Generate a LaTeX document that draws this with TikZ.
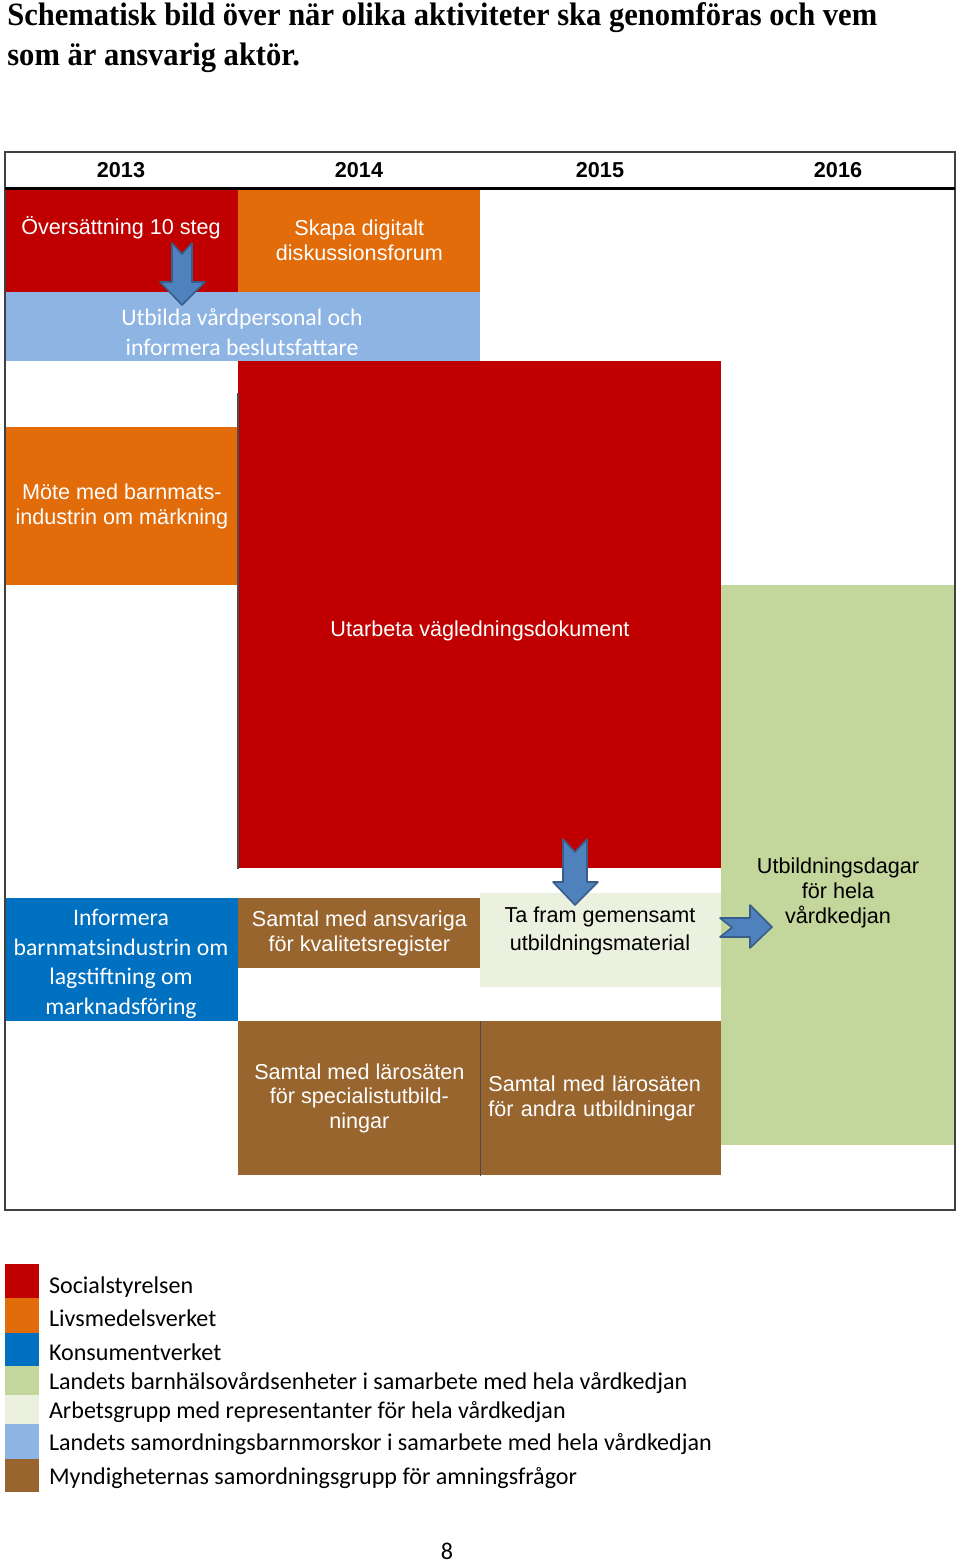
\documentclass[tikz,border=0pt]{standalone}
\usepackage{fontspec}
\setmainfont{Liberation Sans}
\newfontfamily\calfont{Carlito}
\newfontfamily\titlefont[FakeStretch=0.94]{Liberation Serif}
\usetikzlibrary{positioning}

\definecolor{ssred}{HTML}{C00000}
\definecolor{slvorange}{HTML}{E26B0A}
\definecolor{kvblue}{HTML}{0070C0}
\definecolor{bhvgreen}{HTML}{C3D69B}
\definecolor{agpale}{HTML}{EBF1DE}
\definecolor{sbmblue}{HTML}{8DB4E2}
\definecolor{msgbrown}{HTML}{98652F}
\definecolor{arrfill}{HTML}{4F81BD}
\definecolor{arrline}{HTML}{385D8A}

\begin{document}
\begin{tikzpicture}[x=0.02cm, y=-0.02cm,
    cell/.style 2 args={rectangle, inner sep=0pt, anchor=north west, minimum width=#1*0.02cm, minimum height=#2*0.02cm},
    txt/.style={font=\fontsize{12.3}{14}\selectfont, text=white, align=center, inner sep=0pt},
    caltxt/.style={font=\calfont\fontsize{13.5}{17}\selectfont, text=white, align=center, inner sep=0pt},
    year/.style={font=\bfseries\fontsize{12.3}{14}\selectfont},
    barrow/.style={fill=arrfill, draw=arrline, line width=0.9pt, line join=round},
    sep/.style={draw=black!70, line width=0.6pt},
    sw/.style={rectangle, inner sep=0pt, anchor=north west, minimum width=34*0.02cm},
    lgd/.style={font=\calfont\fontsize{13.7}{16}\selectfont, inner sep=0pt, node distance=0.18cm, yshift=-0.04cm}]
  \useasboundingbox (0,0) rectangle (960,1566);

  % title
  \node[anchor=north west, align=left, inner sep=0pt, font=\titlefont\bfseries\fontsize{18.5}{22.7}\selectfont] (title) at (7,2)
    {Schematisk bild över när olika aktiviteter ska genomföras och vem\\som är ansvarig aktör.};

  % years
  \node[year] (y13) at (121,170) {2013};
  \node[year] (y14) at (359,170) {2014};
  \node[year] (y15) at (600,170) {2015};
  \node[year] (y16) at (838,170) {2016};

  % activities
  \node[cell={233}{104}, fill=ssred] (ov) at (5,188) {};
  \node[txt] (ovtxt) at (121,228) {Översättning 10 steg};
  \node[cell={242}{104}, fill=slvorange, txt] (skapa) at (238,188) {Skapa digitalt\\diskussionsforum};
  \node[cell={475}{69}, fill=sbmblue] (utb) at (5,292) {};
  \node[caltxt] (utbtxt) at (242,332) {Utbilda vårdpersonal och\\informera beslutsfattare};
  \node[cell={483}{507}, fill=ssred] (uta) at (238,361) {};
  \node[txt] (utatxt) at (480,631) {Utarbeta vägledningsdokument};
  \node[cell={233}{158}, fill=slvorange, txt] (mote) at (5,427) {Möte med barnmats-\\industrin om märkning};
  \node[cell={234}{560}, fill=bhvgreen] (dagar) at (721,585) {};
  \node[txt, text=black, font=\fontsize{12.3}{14.2}\selectfont] (dagartxt) at (838,893) {Utbildningsdagar\\för hela\\vårdkedjan};
  \node[cell={233}{123}, fill=kvblue] (inf) at (5,898) {};
  \node[caltxt, font=\calfont\fontsize{13.5}{16.8}\selectfont] (inftxt) at (121,964) {Informera\\barnmatsindustrin om\\lagstiftning om\\marknadsföring};
  \node[cell={242}{70}, fill=msgbrown, txt] (ansv) at (238,898) {Samtal med ansvariga\\för kvalitetsregister};
  \node[cell={241}{94}, fill=agpale] (tafram) at (480,893) {};
  \node[txt, text=black, font=\fontsize{12.3}{16.4}\selectfont] (taframtxt) at (600,931) {Ta fram gemensamt\\utbildningsmaterial};
  \node[cell={242}{154}, fill=msgbrown, txt] (spec) at (238,1021) {Samtal med lärosäten\\för specialistutbild-\\ningar};
  \node[cell={241}{154}, fill=msgbrown, txt, align=left, inner xsep=0.16cm, text width=4.5cm] (andra) at (480,1021) {Samtal med lärosäten\\för andra utbildningar};
  \draw[sep] (spec.north east) -- (spec.south east);
  \draw[sep] ([yshift=-0.64cm]uta.north west) -- (uta.south west);

  % block arrows
  \filldraw[barrow] (172,243) -- (182,254) -- (192,243) -- (192,282) -- (205,282) -- (182,305) -- (160,282) -- (172,282) -- cycle;
  \filldraw[barrow] (563,839) -- (575,852) -- (587,839) -- (587,882) -- (598,882) -- (575,905) -- (553,882) -- (563,882) -- cycle;
  \filldraw[barrow] (720,918) -- (732,927.5) -- (720,937) -- (750,937) -- (750,948) -- (772,927) -- (750,905) -- (750,918) -- cycle;

  % frame
  \draw[black!75, line width=1.1pt] (5,152) rectangle (955,1210);
  \draw[black, line width=1.7pt] (5,188) -- (955,188);

  % legend
  \node[sw, minimum height=34*0.02cm, fill=ssred] (swsoc) at (5,1264) {};
  \node[lgd, right=of swsoc, yshift=-0.08cm] (lsoc) {Socialstyrelsen};
  \node[sw, minimum height=35*0.02cm, fill=slvorange] (swslv) at (5,1298) {};
  \node[lgd, right=of swslv] (lslv) {Livsmedelsverket};
  \node[sw, minimum height=33*0.02cm, fill=kvblue] (swkv) at (5,1333) {};
  \node[lgd, right=of swkv] (lkv) {Konsumentverket};
  \node[sw, minimum height=29*0.02cm, fill=bhvgreen] (swbhv) at (5,1366) {};
  \node[lgd, right=of swbhv] (lbhv) {Landets barnhälsovårdsenheter i samarbete med hela vårdkedjan};
  \node[sw, minimum height=29*0.02cm, fill=agpale] (swag) at (5,1395) {};
  \node[lgd, right=of swag] (lag) {Arbetsgrupp med representanter för hela vårdkedjan};
  \node[sw, minimum height=35*0.02cm, fill=sbmblue] (swsbm) at (5,1424) {};
  \node[lgd, right=of swsbm] (lsbm) {Landets samordningsbarnmorskor i samarbete med hela vårdkedjan};
  \node[sw, minimum height=33*0.02cm, fill=msgbrown] (swmsg) at (5,1459) {};
  \node[lgd, right=of swmsg] (lmsg) {Myndigheternas samordningsgrupp för amningsfrågor};

  \node[lgd] (page) at (447,1549) {8};
\end{tikzpicture}
\end{document}
